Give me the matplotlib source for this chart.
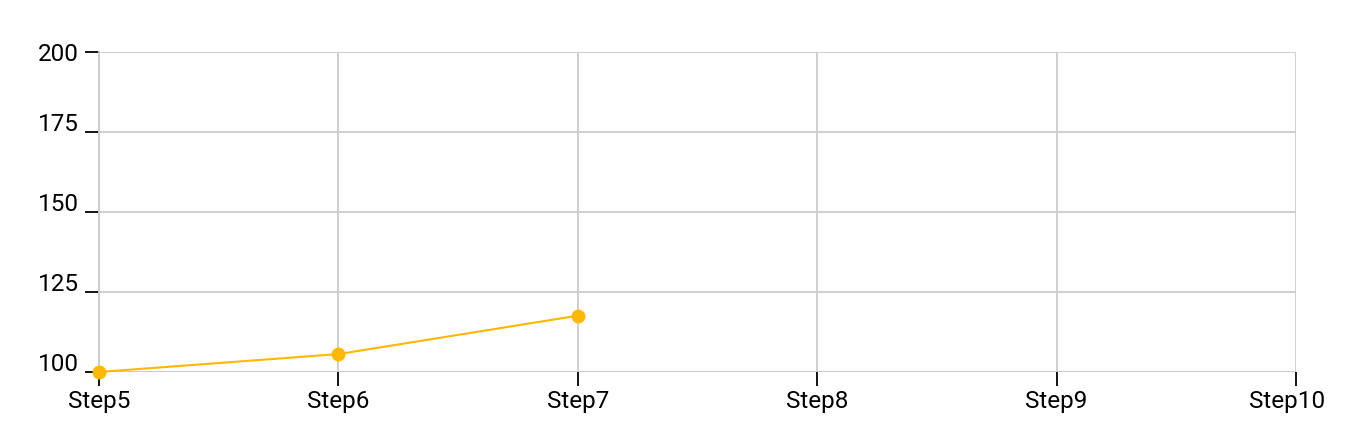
import matplotlib
matplotlib.use("Agg")
import matplotlib.pyplot as plt
import matplotlib.transforms as mtransforms

categories = ["Step5", "Step6", "Step7", "Step8", "Step9", "Step10"]
values = [100, 105.6, 117.6]
y_ticks = [100, 125, 150, 175, 200]

plt.rcParams['font.family'] = ['Roboto', 'DejaVu Sans']

fig = plt.figure(figsize=(13.5, 4.42), dpi=100)
ax = fig.add_axes([99/1350, 1 - 372/442, (1296-99)/1350, (372-52)/442])

x = list(range(len(categories)))
ax.plot(x[:len(values)], values, color="#FFB800", lw=1.5, marker="o",
        markersize=10, markeredgewidth=0, clip_on=False, zorder=3)

ax.set_xlim(0, len(categories) - 1)
ax.set_ylim(100, 200)
ax.set_xticks(x)
ax.set_xticklabels(categories)
ax.set_yticks(y_ticks)
ax.set_yticklabels([str(v) for v in y_ticks])

ax.grid(True, color="#cccccc", lw=1.3)
ax.set_axisbelow(True)
for s in ["top", "right", "bottom"]:
    ax.spines[s].set_visible(False)
ax.spines["left"].set_color("#cccccc")
ax.spines["left"].set_linewidth(1.3)
ax.axhline(100, color="#cccccc", lw=1.3, zorder=1)

ax.tick_params(axis="both", colors="black", labelsize=17.5, length=10, width=1.3)
ax.tick_params(axis="x", pad=3)
ax.tick_params(axis="y", pad=4.5)

# y labels sit just above their tick (top label stays centered)
for lbl, v in zip(ax.get_yticklabels(), y_ticks):
    if v != 200:
        lbl.set_transform(lbl.get_transform() + mtransforms.ScaledTranslation(0, 10/100, fig.dpi_scale_trans))
# last x label shifted left to stay inside
xl = ax.get_xticklabels()
xl[-1].set_transform(xl[-1].get_transform() + mtransforms.ScaledTranslation(-9/100, 0, fig.dpi_scale_trans))

fig.savefig("out.png", dpi=100)
